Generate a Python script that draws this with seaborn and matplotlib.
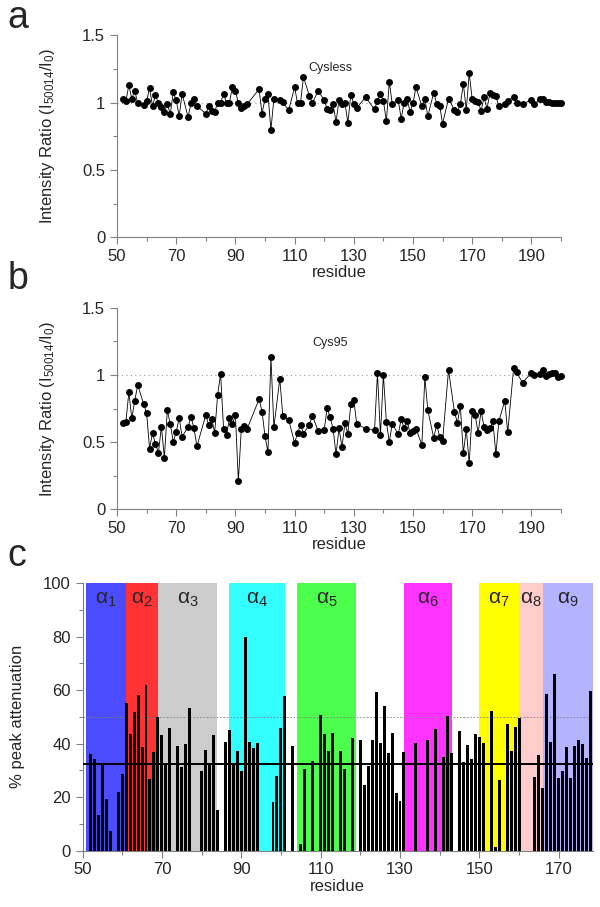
import numpy as np
import pandas as pd
import matplotlib
matplotlib.use("Agg")
import matplotlib.pyplot as plt
from matplotlib.ticker import MultipleLocator
import seaborn as sns

# --- panel a: Cysless ---
res_a = [52, 53, 54, 55, 56, 57, 59, 60, 61, 62, 63, 64, 65, 66, 67, 68, 69, 70, 71, 72,
         74, 75, 76, 77, 80, 81, 82, 83, 84, 85, 86, 87, 88, 89, 90, 91, 92, 93, 94,
         98, 99, 100, 101, 102, 103, 105, 106, 108, 110, 111, 112, 113, 115, 116, 118,
         120, 121, 122, 123, 124, 125, 126, 127, 128, 129, 130, 131, 134, 137, 138, 139,
         140, 141, 142, 143, 145, 146, 147, 148, 149, 150, 151, 153, 154, 155, 157, 158,
         159, 160, 162, 164, 165, 166, 167, 168, 169, 170, 171, 172, 173, 174, 175, 176,
         177, 178, 179, 181, 182, 184, 185, 187, 190, 191, 193, 194, 195, 196, 197, 198,
         199, 200]
ratio_a = [1.03, 1.01, 1.13, 1.03, 1.09, 0.995, 0.98, 1.01, 1.11, 0.975, 1.055, 0.995, 0.965,
           0.93, 0.99, 0.915, 1.077, 1.02, 0.90, 1.067, 0.893, 0.995, 1.025, 0.975, 0.918,
           0.973, 0.94, 0.93, 1.00, 1.00, 1.064, 1.00, 1.00, 1.12, 1.085, 1.00, 0.963, 0.978,
           0.99, 1.10, 0.918, 1.03, 1.067, 0.797, 1.03, 1.017, 1.007, 0.943, 1.116, 0.995,
           1.00, 1.19, 1.05, 0.998, 1.09, 1.017, 0.955, 0.946, 0.988, 0.856, 1.02, 0.988,
           1.00, 0.85, 1.06, 0.99, 0.963, 1.04, 0.95, 1.015, 1.067, 1.015, 0.861, 1.156,
           0.988, 1.022, 0.881, 1.00, 1.03, 0.933, 0.995, 1.116, 0.973, 1.03, 0.899, 1.074,
           0.993, 0.978, 0.844, 1.03, 0.946, 0.933, 0.988, 1.141, 0.946, 1.22, 1.025, 1.01,
           1.007, 0.94, 1.04, 0.955, 1.07, 1.06, 1.05, 0.975, 0.993, 1.015, 1.04, 0.998,
           0.988, 1.022, 0.988, 1.025, 1.03, 1.007, 1.007, 1.00, 0.998, 0.995, 1.00]

# --- panel b: Cys95 ---
res_b = [52, 53, 54, 55, 56, 57, 59, 60, 61, 62, 63, 64, 65, 66, 67, 68, 69, 70, 71, 72,
         74, 75, 76, 77, 80, 81, 82, 83, 84, 85, 86, 87, 88, 89, 90, 91, 92, 93, 94,
         98, 99, 100, 101, 102, 103, 105, 106, 108, 110, 111, 112, 113, 115, 116, 118,
         120, 121, 122, 123, 124, 125, 126, 127, 128, 129, 130, 131, 134, 137, 138, 139,
         140, 141, 142, 143, 145, 146, 147, 148, 149, 150, 151, 153, 154, 155, 157, 158,
         159, 160, 162, 164, 165, 166, 167, 168, 169, 170, 171, 172, 173, 174, 175, 176,
         177, 178, 179, 181, 182, 184, 185, 187, 190, 191, 193, 194, 195, 196, 197, 198,
         199, 200]
ratio_b = [0.643, 0.65, 0.871, 0.677, 0.809, 0.926, 0.784, 0.717, 0.452, 0.568, 0.484, 0.422,
           0.615, 0.385, 0.737, 0.635, 0.504, 0.573, 0.68, 0.541, 0.613, 0.69, 0.603, 0.469,
           0.702, 0.625, 0.672, 0.571, 0.851, 1.01, 0.60, 0.553, 0.677, 0.633, 0.702, 0.208,
           0.60, 0.623, 0.60, 0.821, 0.727, 0.546, 0.424, 1.136, 0.61, 0.973, 0.697, 0.667,
           0.494, 0.566, 0.63, 0.563, 0.63, 0.695, 0.583, 0.59, 0.754, 0.685, 0.598, 0.41,
           0.603, 0.464, 0.64, 0.563, 0.784, 0.814, 0.635, 0.60, 0.588, 1.015, 0.551, 1.002,
           0.653, 0.501, 0.638, 0.558, 0.67, 0.608, 0.66, 0.566, 0.583, 0.60, 0.481, 0.985,
           0.739, 0.531, 0.63, 0.541, 0.509, 1.037, 0.725, 0.645, 0.769, 0.417, 0.596, 0.342,
           0.735, 0.705, 0.566, 0.732, 0.613, 0.591, 0.605, 0.655, 0.41, 0.655, 0.809, 0.573,
           1.052, 1.02, 0.943, 1.015, 1.002, 1.007, 1.037, 0.993, 1.01, 1.015, 1.015, 0.988,
           0.993]

# --- panel c: % peak attenuation ---
res_c = [52, 53, 54, 55, 56, 57, 59, 60, 61, 62, 63, 64, 65, 66, 67, 68, 69, 70, 71, 72,
         74, 75, 76, 77, 80, 81, 82, 83, 84, 86, 87, 88, 89, 90, 91, 92, 93, 94, 98, 99,
         100, 101, 103, 105, 106, 108, 110, 111, 112, 113, 115, 116, 118, 120, 121, 122,
         123, 124, 125, 126, 127, 128, 129, 130, 131, 134, 137, 139, 141, 142, 143, 145,
         146, 147, 148, 149, 150, 151, 153, 154, 155, 157, 158, 159, 160, 164, 165, 166,
         167, 168, 169, 170, 171, 172, 173, 174, 175, 176, 177, 178]
atten_c = [36.1, 34.4, 13.2, 32.6, 19.3, 7.5, 21.9, 28.5, 55.3, 43.5, 51.8, 58.2, 38.6, 62.0,
           26.8, 36.9, 50.1, 43.2, 32.6, 46.0, 39.1, 31.1, 39.9, 53.3, 29.9, 37.6, 32.9, 43.1,
           15.2, 40.5, 45.0, 32.9, 37.2, 29.9, 79.7, 40.5, 38.2, 40.1, 18.2, 27.8, 46.0, 57.8,
           39.2, 2.5, 30.4, 33.4, 50.8, 43.6, 37.2, 43.8, 37.1, 30.6, 42.1, 41.3, 24.5, 31.8,
           41.2, 59.3, 40.2, 54.0, 36.4, 44.1, 21.7, 18.7, 36.7, 40.2, 41.3, 45.5, 35.0, 50.2,
           36.5, 44.6, 33.3, 39.4, 34.2, 43.6, 42.3, 40.1, 52.2, 1.5, 26.4, 47.2, 37.4, 46.3,
           49.6, 27.5, 35.9, 23.4, 58.5, 40.7, 65.9, 27.1, 29.8, 38.7, 27.3, 39.1, 41.2, 39.9,
           34.6, 59.5]
mean_c = 32.5
threshold_c = 50

helix_names = ["1", "2", "3", "4", "5", "6", "7", "8", "9"]
helix_start = [51, 61, 69, 87, 104, 131, 150, 160, 166]
helix_end = [61, 69, 84, 101, 119, 143, 160, 166, 178.5]
helix_colors = ["#4c4cff", "#ff3333", "#cccccc", "#33ffff", "#4dff4d",
                "#ff33ff", "#ffff00", "#ffcccc", "#b3b3ff"]

sns.set_style("ticks")
plt.rcParams['font.family'] = ['Liberation Sans', 'DejaVu Sans']
plt.rcParams['mathtext.default'] = 'regular'
plt.rcParams['mathtext.fontset'] = 'custom'
plt.rcParams['mathtext.rm'] = 'Liberation Sans'
plt.rcParams['mathtext.it'] = 'Liberation Sans'

AX_GREY = "#808080"
FS = 12


def style_axes(ax):
    for side in ["top", "right"]:
        ax.spines[side].set_visible(False)
    for side in ["left", "bottom"]:
        ax.spines[side].set_color(AX_GREY)
        ax.spines[side].set_linewidth(0.8)
    ax.tick_params(which="both", direction="out", color=AX_GREY, labelsize=FS, width=0.8)
    ax.tick_params(which="major", length=5)
    ax.tick_params(which="minor", length=3)


fig = plt.figure(figsize=(6, 9.07), dpi=100)

# ---- panels a and b ----
panels = [
    (res_a, ratio_a, "Cysless", [0.195, 0.7384, 0.74, 0.2226], "a", 0.969, 0.84),
    (res_b, ratio_b, "Cys95", [0.195, 0.4385, 0.74, 0.2221], "b", 0.681, 0.825),
]
for res, vals, title, rect, letter, ly, ty in panels:
    ax = fig.add_axes(rect)
    df = pd.DataFrame({"residue": res, "ratio": vals})
    ax.axhline(1.0, color="#999999", linestyle=(0, (1, 3)), linewidth=0.8, zorder=0)
    sns.lineplot(data=df, x="residue", y="ratio", ax=ax, color="black", linewidth=0.6,
                 marker="o", markersize=5, markeredgewidth=0, clip_on=False)
    ax.set_xlim(50, 200)
    ax.set_ylim(0, 1.5)
    ax.set_xticks(range(50, 201, 20))
    ax.xaxis.set_minor_locator(MultipleLocator(10))
    ax.yaxis.set_minor_locator(MultipleLocator(0.25))
    ax.set_yticks([0, 0.5, 1, 1.5])
    ax.set_yticklabels(["0", "0.5", "1", "1.5"])
    style_axes(ax)
    ax.set_xlabel("residue", fontsize=FS, labelpad=1)
    ax.set_ylabel("Intensity Ratio (I$_{50014}$/I$_{0}$)", fontsize=FS)
    ax.yaxis.set_label_coords(-0.135, 0.5)
    ax.text(0.48, ty, title, transform=ax.transAxes, ha="center", va="center", fontsize=9)
    fig.text(0.012, ly, letter, fontsize=27, va="baseline")

# ---- panel c ----
axc = fig.add_axes([0.1375, 0.0621, 0.850, 0.2951])
for name, x0, x1, col in zip(helix_names, helix_start, helix_end, helix_colors):
    axc.axvspan(x0, x1, color=col, lw=0, zorder=0)
    axc.text((x0 + x1) / 2, 94, "α$_{" + name + "}$", ha="center", va="center",
             fontsize=15, zorder=3)
axc.axhline(threshold_c, color="#808080", linestyle=(0, (2, 2)), linewidth=0.6, zorder=1)
dfc = pd.DataFrame({"residue": res_c, "attenuation": atten_c})
sns.barplot(data=dfc, x="residue", y="attenuation", ax=axc, native_scale=True,
            color="black", width=0.75, linewidth=0, saturation=1, zorder=2)
axc.axhline(mean_c, color="black", linewidth=1.4, zorder=3)
axc.set_xlim(50, 178.5)
axc.set_ylim(0, 100)
axc.set_xticks(range(50, 171, 20))
axc.xaxis.set_minor_locator(MultipleLocator(10))
axc.yaxis.set_major_locator(MultipleLocator(20))
axc.yaxis.set_minor_locator(MultipleLocator(10))
style_axes(axc)
axc.set_xlabel("residue", fontsize=FS, labelpad=1)
axc.set_ylabel("% peak attenuation", fontsize=FS)
axc.yaxis.set_label_coords(-0.113, 0.5)
fig.text(0.012, 0.376, "c", fontsize=27, va="baseline")

fig.savefig("out.png", dpi=100)
